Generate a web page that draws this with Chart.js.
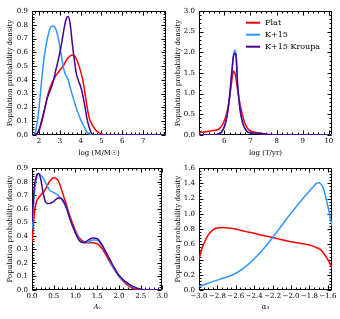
<!DOCTYPE html>
<html><head><meta charset="utf-8">
<script src="https://cdn.jsdelivr.net/npm/chart.js@4/dist/chart.umd.min.js"></script>
<style>
html,body{margin:0;padding:0;background:#fff;width:340px;height:319px;overflow:hidden}
canvas{position:absolute}
</style></head><body>
<canvas id="c1" style="left:0;top:0" width="170" height="160"></canvas>
<canvas id="c2" style="left:170px;top:0" width="170" height="160"></canvas>
<canvas id="c3" style="left:0;top:160px" width="170" height="159"></canvas>
<canvas id="c4" style="left:170px;top:160px" width="170" height="159"></canvas>
<script>
// ---------- data ----------
const seriesLabels = ["Flat", "K+15", "K+15 Kroupa"];

// Panel 1: log(M/Msun)
const massX = [1.66,1.7,1.8,1.9,2.0,2.1,2.2,2.3,2.4,2.5,2.6,2.7,2.8,2.9,3.0,3.1,3.2,3.3,3.4,3.5,3.6,3.7,3.8,3.9,4.0,4.1,4.2,4.3,4.4,4.5,4.6,4.7,4.8,4.9,5.0,5.1,5.2,8.1];
const massFlat   = [0,0,0,0.01,0.03,0.08,0.14,0.21,0.28,0.33,0.37,0.40,0.43,0.45,0.47,0.49,0.51,0.54,0.56,0.575,0.58,0.575,0.55,0.51,0.46,0.40,0.31,0.21,0.13,0.09,0.06,0.04,0.025,0.015,0.007,0.002,0,0];
const massK15    = [0,0,0.01,0.08,0.20,0.36,0.51,0.62,0.70,0.76,0.79,0.79,0.77,0.72,0.64,0.55,0.47,0.43,0.40,0.34,0.29,0.24,0.19,0.15,0.11,0.08,0.05,0.02,0.01,0,0,0,0,0,0,0,0,0];
const massKroupa = [0,0,0,0.01,0.04,0.09,0.15,0.21,0.27,0.31,0.35,0.40,0.47,0.53,0.60,0.68,0.77,0.84,0.86,0.80,0.66,0.54,0.44,0.39,0.35,0.29,0.21,0.12,0.06,0.02,0,0,0,0,0,0,0,0];
const massXTicks = [2,3,4,5,6,7];
const massYTicks = [0,0.1,0.2,0.3,0.4,0.5,0.6,0.7,0.8,0.9];

// Panel 2: log(T/yr)
const ageX = [5.0,5.2,5.4,5.6,5.7,5.8,5.9,6.0,6.1,6.2,6.3,6.35,6.4,6.45,6.5,6.6,6.7,6.8,6.9,7.0,7.2,7.4,7.6,7.8,8.0,10.12];
const ageFlat   = [0.05,0.07,0.09,0.11,0.12,0.15,0.22,0.35,0.55,0.9,1.38,1.55,1.5,1.35,1.12,0.75,0.47,0.26,0.15,0.1,0.06,0.04,0.02,0.01,0,0];
const ageK15    = [0,0,0,0,0.01,0.03,0.08,0.2,0.45,0.95,1.65,1.95,2.05,1.95,1.3,0.62,0.3,0.14,0.07,0.05,0.045,0.035,0.02,0,0,0];
const ageKroupa = [0,0,0,0,0.01,0.03,0.08,0.2,0.45,0.93,1.6,1.9,1.98,1.9,1.28,0.62,0.3,0.14,0.07,0.05,0.045,0.035,0.02,0,0,0];
const ageXTicks = [6,7,8,9,10];
const ageYTicks = [0,0.5,1.0,1.5,2.0,2.5,3.0];

// Panel 3: Av
const avX = [0,0.05,0.1,0.15,0.2,0.25,0.3,0.35,0.4,0.5,0.6,0.65,0.7,0.8,0.9,1.0,1.1,1.2,1.3,1.4,1.5,1.6,1.7,1.8,1.9,2.0,2.1,2.2,2.3,2.4,2.5,2.6,3.0];
const avFlat   = [0.35,0.55,0.65,0.68,0.70,0.72,0.74,0.77,0.80,0.83,0.81,0.77,0.72,0.62,0.52,0.44,0.38,0.355,0.35,0.35,0.34,0.31,0.26,0.2,0.15,0.1,0.065,0.035,0.015,0.005,0,0,0];
const avK15    = [0.45,0.70,0.82,0.86,0.85,0.83,0.80,0.77,0.74,0.72,0.70,0.68,0.66,0.60,0.50,0.43,0.37,0.35,0.355,0.37,0.37,0.33,0.28,0.21,0.15,0.10,0.07,0.045,0.025,0.012,0.005,0,0];
const avKroupa = [0.5,0.75,0.84,0.86,0.82,0.73,0.66,0.64,0.64,0.655,0.68,0.68,0.67,0.60,0.50,0.42,0.36,0.35,0.37,0.385,0.38,0.34,0.28,0.22,0.16,0.11,0.075,0.05,0.03,0.015,0.005,0,0];
const avXTicks = [0,0.5,1.0,1.5,2.0,2.5,3.0];
const avYTicks = [0,0.1,0.2,0.3,0.4,0.5,0.6,0.7,0.8,0.9];

// Panel 4: alpha3
const alphaX = [-3.0,-2.98,-2.95,-2.9,-2.85,-2.8,-2.75,-2.7,-2.6,-2.5,-2.4,-2.3,-2.2,-2.1,-2.0,-1.9,-1.8,-1.75,-1.72,-1.7,-1.68,-1.65,-1.6,-1.555];
const alphaFlat = [0.4,0.5,0.6,0.72,0.79,0.815,0.82,0.815,0.8,0.77,0.745,0.715,0.69,0.66,0.635,0.615,0.59,0.57,0.555,0.545,0.53,0.49,0.4,0.29];
const alphaK15  = [0.05,0.055,0.065,0.09,0.11,0.13,0.15,0.17,0.22,0.3,0.41,0.54,0.69,0.85,1.01,1.16,1.3,1.37,1.405,1.41,1.40,1.34,1.1,0.84];
const alphaXTicks = [-3.0,-2.8,-2.6,-2.4,-2.2,-2.0,-1.8,-1.6];
const alphaYTicks = [0,0.2,0.4,0.6,0.8,1.0,1.2,1.4,1.6];

// ---------- styling ----------
const FONT = "'DejaVu Serif', serif";
const COLORS = {"Flat":"#ff0000","K+15":"#2e95ff","K+15 Kroupa":"#4b0090"};
const ORDER = {"Flat":3,"K+15":2,"K+15 Kroupa":1};
const fmt1 = v => (v < 0 ? '\u2212' : '') + Math.abs(v).toFixed(1);
const fmt0 = v => String(v);

const frameTicks = {
  id: 'frameTicks',
  beforeDatasetsDraw(chart, args, o) {
    const {ctx, chartArea: a, scales: {x, y}} = chart;
    const L = Math.round(a.left) + 0.5, R = Math.round(a.right) - 0.5;
    const T = Math.round(a.top) + 0.5, B = Math.round(a.bottom) - 0.5;
    ctx.save();
    ctx.strokeStyle = '#000'; ctx.lineWidth = 1;
    ctx.strokeRect(L, T, R - L, B - T);
    const tick = (sc, v, len) => {
      const p = Math.round(sc.getPixelForValue(v)) + 0.5;
      ctx.beginPath();
      if (sc.isHorizontal()) { ctx.moveTo(p, B); ctx.lineTo(p, B - len); ctx.moveTo(p, T); ctx.lineTo(p, T + len); }
      else { ctx.moveTo(L, p); ctx.lineTo(L + len, p); ctx.moveTo(R, p); ctx.lineTo(R - len, p); }
      ctx.stroke();
    };
    const doScale = (sc, step) => {
      const maj = sc.ticks.map(t => t.value);
      maj.forEach(v => { if (v >= sc.min - 1e-9 && v <= sc.max + 1e-9) tick(sc, v, 4); });
      for (let k = Math.ceil(sc.min / step - 1e-9); k * step <= sc.max + 1e-9; k++) {
        const v = k * step;
        if (maj.some(m => Math.abs(m - v) < step / 2)) continue;
        tick(sc, v, 2);
      }
    };
    doScale(x, o.xMinor); doScale(y, o.yMinor);
    ctx.restore();
  },
  afterDraw(chart, args, o) {
    if (!o.legend) return;
    const ctx = chart.ctx; const lg = o.legend;
    ctx.save();
    ctx.font = '8px ' + FONT; ctx.textBaseline = 'middle'; ctx.fillStyle = '#000';
    chart.data.datasets.forEach((d, i) => {
      const yy = lg.y0 + i * lg.dy;
      ctx.strokeStyle = d.borderColor; ctx.lineWidth = 2;
      ctx.beginPath(); ctx.moveTo(lg.x0, yy); ctx.lineTo(lg.x1, yy); ctx.stroke();
      ctx.fillText(d.label, lg.tx, yy + 0.5);
    });
    ctx.restore();
  }
};

function panel(id, c) {
  return new Chart(document.getElementById(id), {
    type: 'line',
    data: {
      datasets: c.series.map(s => ({
        label: s.label,
        data: c.xs.map((xv, i) => ({x: xv, y: s.ys[i]})),
        borderColor: COLORS[s.label], borderWidth: 1.5, pointRadius: 0,
        cubicInterpolationMode: 'monotone', fill: false, order: ORDER[s.label]
      }))
    },
    options: {
      responsive: false, animation: false, events: [],
      layout: {padding: {top: c.padTop, right: c.padRight, left: 0, bottom: 0}},
      plugins: {legend: {display: false}, tooltip: {enabled: false},
        frameTicks: {xMinor: c.xMinor, yMinor: c.yMinor, legend: c.legend || null}},
      scales: {
        x: {type: 'linear', min: c.xMin, max: c.xMax,
          grid: {display: false, drawTicks: false}, border: {display: false},
          afterBuildTicks: s => { s.ticks = c.xTicks.map(v => ({value: v})); },
          afterFit: s => { s.height = c.xH; },
          ticks: {autoSkip: false, maxRotation: 0, minRotation: 0, padding: 2, color: '#000',
            font: {family: FONT, size: 7}, callback: v => c.xFmt(v)},
          title: {display: true, text: c.xTitle, color: '#000', padding: c.xTitlePad,
            font: {family: FONT, size: 7, style: c.xStyle || 'normal'}}},
        y: {type: 'linear', min: c.yMin, max: c.yMax,
          grid: {display: false, drawTicks: false}, border: {display: false},
          afterBuildTicks: s => { s.ticks = c.yTicks.map(v => ({value: v})); },
          afterFit: s => { s.width = c.yW; },
          ticks: {autoSkip: false, padding: 4, color: '#000',
            font: {family: FONT, size: 7}, callback: v => fmt1(v)},
          title: {display: true, text: 'Population probability density', color: '#000',
            padding: c.yTitlePad, font: {family: FONT, size: 7}}}
      }
    },
    plugins: [frameTicks]
  });
}

panel('c1', {
  xs: massX,
  series: [{label: seriesLabels[0], ys: massFlat}, {label: seriesLabels[1], ys: massK15}, {label: seriesLabels[2], ys: massKroupa}],
  xMin: 1.66, xMax: 8.1, yMin: 0, yMax: 0.9, xTicks: massXTicks, yTicks: massYTicks, xFmt: fmt0,
  xMinor: 0.2, yMinor: 0.02, yW: 32, xH: 25, padTop: 11, padRight: 4,
  xTitle: 'log (M/M\u2609)', xTitlePad: 3, yTitlePad: 6
});
panel('c2', {
  xs: ageX,
  series: [{label: seriesLabels[0], ys: ageFlat}, {label: seriesLabels[1], ys: ageK15}, {label: seriesLabels[2], ys: ageKroupa}],
  xMin: 5.03, xMax: 10.12, yMin: 0, yMax: 3.0, xTicks: ageXTicks, yTicks: ageYTicks, xFmt: fmt0,
  xMinor: 0.2, yMinor: 0.1, yW: 29, xH: 25, padTop: 11, padRight: 8,
  xTitle: 'log (T/yr)', xTitlePad: 3, yTitlePad: 4,
  legend: {x0: 76, x1: 90, tx: 95, y0: 22.7, dy: 12}
});
panel('c3', {
  xs: avX,
  series: [{label: seriesLabels[0], ys: avFlat}, {label: seriesLabels[1], ys: avK15}, {label: seriesLabels[2], ys: avKroupa}],
  xMin: 0, xMax: 3.0, yMin: 0, yMax: 0.9, xTicks: avXTicks, yTicks: avYTicks, xFmt: fmt1,
  xMinor: 0.1, yMinor: 0.02, yW: 32, xH: 29, padTop: 7, padRight: 7,
  xTitle: 'A\u1D65', xStyle: 'italic', xTitlePad: 8, yTitlePad: 6
});
panel('c4', {
  xs: alphaX,
  series: [{label: seriesLabels[0], ys: alphaFlat}, {label: seriesLabels[1], ys: alphaK15}],
  xMin: -3.0, xMax: -1.555, yMin: 0, yMax: 1.6, xTicks: alphaXTicks, yTicks: alphaYTicks, xFmt: fmt1,
  xMinor: 0.05, yMinor: 0.04, yW: 29, xH: 29, padTop: 7, padRight: 8,
  xTitle: '\u03B1\u2083', xStyle: 'italic', xTitlePad: 8, yTitlePad: 4
});
</script>
</body></html>
